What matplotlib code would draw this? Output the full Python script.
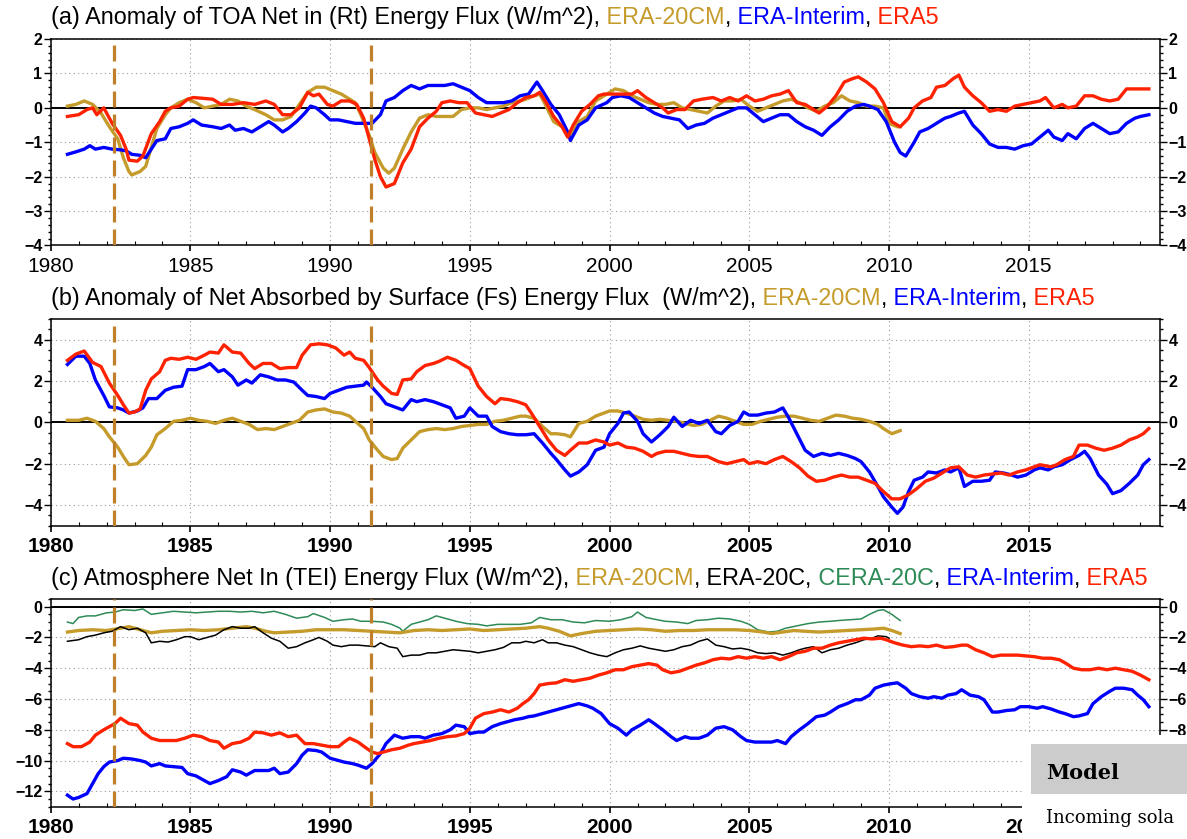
import matplotlib
matplotlib.use("Agg")
import matplotlib.pyplot as plt
import matplotlib.transforms as mtransforms
from matplotlib.ticker import MultipleLocator
from matplotlib.patches import Rectangle

plt.rcParams['font.family'] = ['Liberation Sans', 'DejaVu Sans']

GOLD = '#c59b2b'
BLUE = '#0000ff'
RED = '#ff2200'
GREEN = '#2e8b57'
VOLC = '#c0802a'

eruptions = [1982.25, 1991.45]

# (a) TOA net in, anomaly
toa_20cm = [(1980.6,0.05),(1980.9,0.1),(1981.2,0.2),(1981.5,0.1),(1981.8,-0.15),(1982.1,-0.55),(1982.4,-0.9),
            (1982.6,-1.45),(1982.8,-1.85),(1982.9,-1.95),(1983.2,-1.85),(1983.4,-1.7),(1983.6,-1.15),(1983.8,-0.6),
            (1984.1,-0.2),(1984.3,0.0),(1984.6,0.15),(1984.9,0.25),(1985.2,0.15),(1985.5,0.0),(1985.8,0.05),
            (1986.1,0.1),(1986.4,0.25),(1986.7,0.2),(1987.0,0.05),(1987.3,-0.05),(1987.7,-0.2),(1988.0,-0.35),
            (1988.3,-0.35),(1988.6,-0.25),(1988.9,0.1),(1989.2,0.45),(1989.5,0.6),(1989.8,0.6),(1990.1,0.5),
            (1990.4,0.4),(1990.7,0.25),(1990.9,0.15),(1991.1,-0.2),(1991.4,-0.8),(1991.6,-1.3),(1991.9,-1.75),
            (1992.1,-1.9),(1992.3,-1.75),(1992.6,-1.2),(1992.9,-0.7),(1993.2,-0.3),(1993.5,-0.2),(1993.8,-0.25),
            (1994.1,-0.25),(1994.4,-0.25),(1994.7,-0.05),(1995.0,0.0),(1995.3,0.0),(1995.6,-0.05),(1995.9,0.0),
            (1996.2,0.05),(1996.5,0.15),(1996.8,0.2),(1997.0,0.25),(1997.3,0.35),(1997.5,0.4),(1997.7,0.1),
            (1998.0,-0.4),(1998.3,-0.55),(1998.6,-0.8),(1998.9,-0.4),(1999.2,-0.25),(1999.5,0.2),(1999.9,0.4),
            (2000.2,0.55),(2000.5,0.5),(2000.8,0.35),(2001.1,0.25),(2001.4,0.15),(2001.7,0.1),(2002.0,0.1),
            (2002.3,0.15),(2002.6,0.0),(2002.9,-0.05),(2003.2,-0.1),(2003.5,-0.15),(2003.8,0.05),(2004.1,0.2),
            (2004.4,0.2),(2004.7,0.25),(2005.0,0.05),(2005.3,-0.1),(2005.6,0.0),(2005.9,0.1),(2006.2,0.2),
            (2006.5,0.25),(2006.8,0.15),(2007.1,0.0),(2007.4,-0.1),(2007.7,0.05),(2008.0,0.15),(2008.3,0.35),
            (2008.6,0.2),(2008.9,0.15),(2009.2,0.05),(2009.5,0.05),(2009.8,0.0),(2010.0,-0.45),(2010.3,-0.55),
            (2010.4,-0.55)]
toa_erai = [(1980.6,-1.35),(1980.9,-1.28),(1981.2,-1.2),(1981.4,-1.1),(1981.6,-1.2),(1981.9,-1.15),(1982.2,-1.2),
            (1982.5,-1.22),(1982.7,-1.25),(1982.9,-1.35),(1983.2,-1.38),(1983.4,-1.45),(1983.6,-1.2),(1983.8,-0.95),
            (1984.1,-0.9),(1984.3,-0.6),(1984.6,-0.55),(1984.9,-0.45),(1985.1,-0.35),(1985.4,-0.5),(1985.8,-0.55),
            (1986.1,-0.6),(1986.4,-0.5),(1986.6,-0.65),(1986.9,-0.6),(1987.2,-0.7),(1987.5,-0.55),(1987.8,-0.4),
            (1988.0,-0.5),(1988.3,-0.7),(1988.5,-0.6),(1988.8,-0.4),(1989.1,-0.15),(1989.3,0.05),(1989.5,0.0),
            (1989.8,-0.2),(1990.0,-0.35),(1990.3,-0.35),(1990.6,-0.4),(1990.9,-0.45),(1991.2,-0.45),(1991.5,-0.45),
            (1991.8,-0.2),(1992.0,0.2),(1992.3,0.3),(1992.6,0.5),(1992.9,0.65),(1993.2,0.55),(1993.5,0.65),
            (1993.8,0.65),(1994.1,0.65),(1994.4,0.7),(1994.7,0.6),(1995.0,0.5),(1995.3,0.3),(1995.6,0.15),
            (1995.9,0.15),(1996.2,0.15),(1996.5,0.2),(1996.8,0.35),(1997.1,0.4),(1997.4,0.75),(1997.6,0.5),
            (1997.9,0.1),(1998.2,-0.2),(1998.5,-0.7),(1998.6,-0.95),(1998.9,-0.5),(1999.2,-0.35),(1999.5,0.0),
            (1999.9,0.15),(2000.1,0.3),(2000.4,0.35),(2000.7,0.3),(2001.0,0.15),(2001.3,0.0),(2001.6,-0.15),
            (2001.9,-0.25),(2002.2,-0.3),(2002.5,-0.35),(2002.8,-0.6),(2003.1,-0.5),(2003.4,-0.45),(2003.7,-0.3),
            (2004.0,-0.2),(2004.3,-0.1),(2004.6,0.0),(2004.9,0.0),(2005.2,-0.2),(2005.5,-0.4),(2005.8,-0.3),
            (2006.1,-0.2),(2006.4,-0.2),(2006.7,-0.4),(2007.0,-0.55),(2007.3,-0.65),(2007.6,-0.8),(2007.9,-0.55),
            (2008.2,-0.35),(2008.5,-0.1),(2008.8,0.05),(2009.1,0.1),(2009.3,0.05),(2009.6,-0.05),(2009.9,-0.4),
            (2010.2,-1.0),(2010.4,-1.3),(2010.6,-1.4),(2010.9,-1.0),(2011.1,-0.7),(2011.4,-0.6),(2011.7,-0.45),
            (2012.0,-0.3),(2012.2,-0.25),(2012.5,-0.15),(2012.7,-0.1),(2013.0,-0.5),(2013.3,-0.75),(2013.6,-1.05),
            (2013.9,-1.15),(2014.2,-1.15),(2014.5,-1.2),(2014.8,-1.1),(2015.1,-1.05),(2015.4,-0.85),(2015.7,-0.65),
            (2015.9,-0.85),(2016.2,-0.95),(2016.4,-0.75),(2016.7,-0.9),(2017.0,-0.6),(2017.3,-0.45),(2017.6,-0.6),
            (2017.9,-0.75),(2018.2,-0.7),(2018.5,-0.45),(2018.8,-0.3),(2019.0,-0.25),(2019.3,-0.2)]
toa_era5 = [(1980.6,-0.25),(1981.0,-0.2),(1981.3,-0.05),(1981.5,0.0),(1981.65,-0.2),(1981.9,0.0),(1982.2,-0.45),
            (1982.5,-0.8),(1982.7,-1.2),(1982.8,-1.52),(1983.1,-1.55),(1983.3,-1.4),(1983.6,-0.75),(1983.9,-0.4),
            (1984.1,-0.1),(1984.3,0.0),(1984.6,0.05),(1984.9,0.25),(1985.1,0.3),(1985.4,0.28),(1985.8,0.25),
            (1986.1,0.1),(1986.5,0.1),(1986.9,0.15),(1987.3,0.1),(1987.7,0.2),(1988.0,0.1),(1988.3,-0.2),
            (1988.6,-0.2),(1988.9,0.0),(1989.2,0.45),(1989.4,0.35),(1989.6,0.4),(1989.9,0.1),(1990.1,0.05),
            (1990.4,0.2),(1990.7,0.2),(1990.95,0.1),(1991.2,-0.3),(1991.4,-0.9),(1991.6,-1.5),(1991.8,-2.0),
            (1992.0,-2.3),(1992.3,-2.2),(1992.6,-1.6),(1992.9,-1.2),(1993.2,-0.55),(1993.5,-0.3),(1993.8,-0.1),
            (1994.0,0.15),(1994.3,0.2),(1994.6,0.15),(1994.9,0.15),(1995.2,-0.15),(1995.5,-0.2),(1995.8,-0.25),
            (1996.1,-0.15),(1996.4,-0.05),(1996.7,0.15),(1997.0,0.3),(1997.3,0.35),(1997.5,0.45),(1997.7,0.2),
            (1998.0,-0.25),(1998.3,-0.55),(1998.5,-0.85),(1998.7,-0.5),(1999.0,-0.1),(1999.3,0.1),(1999.6,0.35),
            (1999.8,0.4),(2000.0,0.4),(2000.4,0.4),(2000.8,0.4),(2001.0,0.5),(2001.3,0.3),(2001.6,0.15),
            (2001.9,0.0),(2002.1,-0.15),(2002.4,-0.05),(2002.7,-0.05),(2003.0,0.2),(2003.3,0.25),(2003.7,0.3),
            (2004.0,0.2),(2004.3,0.3),(2004.6,0.2),(2004.9,0.35),(2005.2,0.2),(2005.5,0.25),(2005.8,0.35),
            (2006.1,0.4),(2006.4,0.5),(2006.7,0.15),(2007.0,0.1),(2007.3,-0.05),(2007.5,-0.15),(2007.8,0.05),
            (2008.1,0.35),(2008.4,0.75),(2008.7,0.85),(2008.9,0.9),(2009.2,0.75),(2009.5,0.55),(2009.8,0.15),
            (2010.1,-0.4),(2010.4,-0.55),(2010.7,-0.3),(2010.9,0.0),(2011.2,0.2),(2011.5,0.3),(2011.7,0.6),
            (2012.0,0.65),(2012.3,0.85),(2012.5,0.95),(2012.7,0.6),(2013.0,0.35),(2013.3,0.15),(2013.6,-0.1),
            (2013.9,-0.05),(2014.2,-0.1),(2014.5,0.05),(2014.8,0.1),(2015.1,0.15),(2015.4,0.2),(2015.6,0.3),
            (2015.9,0.0),(2016.2,0.1),(2016.4,0.0),(2016.7,0.05),(2017.0,0.35),(2017.3,0.35),(2017.6,0.25),
            (2017.9,0.2),(2018.2,0.25),(2018.5,0.55),(2018.8,0.55),(2019.1,0.55),(2019.3,0.55)]

# (b) net absorbed by surface, anomaly
sfc_20cm = [(1980.6,0.1),(1981.0,0.1),(1981.3,0.2),(1981.6,0.05),(1981.9,-0.3),(1982.1,-0.7),(1982.4,-1.2),
            (1982.6,-1.65),(1982.8,-2.05),(1983.1,-2.0),(1983.4,-1.6),(1983.6,-1.2),(1983.8,-0.6),(1984.1,-0.3),
            (1984.4,0.05),(1984.7,0.1),(1985.0,0.2),(1985.3,0.1),(1985.6,0.05),(1985.9,-0.05),(1986.2,0.1),
            (1986.5,0.2),(1986.8,0.05),(1987.1,-0.1),(1987.4,-0.35),(1987.7,-0.3),(1988.0,-0.35),(1988.3,-0.2),
            (1988.6,-0.05),(1988.9,0.1),(1989.2,0.5),(1989.5,0.6),(1989.8,0.65),(1990.1,0.5),(1990.4,0.45),
            (1990.7,0.3),(1990.9,0.05),(1991.2,-0.3),(1991.4,-0.85),(1991.7,-1.35),(1991.9,-1.65),(1992.2,-1.8),
            (1992.4,-1.75),(1992.6,-1.25),(1992.9,-0.85),(1993.2,-0.45),(1993.5,-0.35),(1993.8,-0.3),(1994.1,-0.35),
            (1994.4,-0.3),(1994.7,-0.2),(1995.0,-0.15),(1995.3,-0.1),(1995.6,-0.1),(1995.9,0.05),(1996.2,0.1),
            (1996.5,0.2),(1996.8,0.3),(1997.0,0.3),(1997.3,0.2),(1997.6,-0.2),(1997.9,-0.55),(1998.1,-0.55),
            (1998.4,-0.6),(1998.6,-0.7),(1998.9,-0.05),(1999.2,0.05),(1999.5,0.3),(2000.0,0.55),(2000.3,0.55),
            (2000.6,0.45),(2000.9,0.3),(2001.2,0.15),(2001.5,0.1),(2001.8,0.15),(2002.1,0.1),(2002.4,0.05),
            (2002.7,-0.05),(2003.0,-0.15),(2003.3,-0.1),(2003.6,0.1),(2003.9,0.3),(2004.2,0.2),(2004.5,0.05),
            (2004.8,-0.1),(2005.1,-0.1),(2005.4,0.05),(2005.7,0.15),(2006.0,0.25),(2006.3,0.3),(2006.6,0.3),
            (2006.9,0.2),(2007.2,0.1),(2007.5,0.05),(2007.8,0.2),(2008.1,0.35),(2008.4,0.3),(2008.7,0.2),
            (2009.0,0.15),(2009.3,0.05),(2009.6,-0.1),(2009.8,-0.3),(2010.1,-0.55),(2010.4,-0.4)]
sfc_erai = [(1980.6,2.8),(1980.9,3.2),(1981.2,3.2),(1981.4,2.85),(1981.6,2.05),(1981.9,1.3),(1982.1,0.75),
            (1982.4,0.7),(1982.6,0.6),(1982.8,0.45),(1983.1,0.55),(1983.3,0.7),(1983.5,1.15),(1983.8,1.15),
            (1984.1,1.55),(1984.4,1.7),(1984.7,1.75),(1984.9,2.55),(1985.2,2.55),(1985.5,2.7),(1985.7,2.85),
            (1986.0,2.45),(1986.2,2.55),(1986.5,2.2),(1986.7,1.8),(1987.0,2.05),(1987.2,1.9),(1987.5,2.3),
            (1987.8,2.2),(1988.1,2.05),(1988.4,2.05),(1988.7,1.95),(1989.0,1.55),(1989.2,1.3),(1989.5,1.25),
            (1989.8,1.15),(1990.0,1.4),(1990.3,1.55),(1990.6,1.7),(1990.9,1.75),(1991.2,1.8),(1991.3,1.95),
            (1991.5,1.7),(1991.8,1.25),(1992.0,0.9),(1992.3,0.75),(1992.6,0.6),(1992.9,1.1),(1993.1,1.0),
            (1993.4,1.1),(1993.7,1.0),(1994.0,0.85),(1994.3,0.7),(1994.5,0.2),(1994.8,0.3),(1995.0,0.7),
            (1995.3,0.3),(1995.6,0.3),(1995.8,-0.2),(1996.1,-0.45),(1996.4,-0.55),(1996.7,-0.6),(1997.0,-0.6),
            (1997.3,-0.55),(1997.6,-1.0),(1997.9,-1.5),(1998.1,-1.8),(1998.4,-2.3),(1998.6,-2.6),(1998.9,-2.4),
            (1999.2,-2.05),(1999.5,-1.35),(1999.8,-1.2),(2000.0,-0.55),(2000.3,-0.05),(2000.5,0.45),(2000.7,0.5),
            (2001.0,0.05),(2001.2,-0.55),(2001.5,-0.95),(2001.8,-0.6),(2002.1,-0.2),(2002.3,0.25),(2002.6,-0.2),
            (2002.9,0.1),(2003.2,-0.05),(2003.5,0.1),(2003.8,-0.45),(2004.0,-0.55),(2004.3,-0.15),(2004.6,0.05),
            (2004.8,0.5),(2005.0,0.35),(2005.3,0.35),(2005.6,0.45),(2005.9,0.5),(2006.2,0.7),(2006.4,0.25),
            (2006.7,-0.55),(2007.0,-1.35),(2007.3,-1.65),(2007.6,-1.5),(2007.9,-1.6),(2008.2,-1.5),(2008.5,-1.6),
            (2008.8,-1.75),(2009.0,-1.9),(2009.3,-2.4),(2009.6,-3.1),(2009.8,-3.6),(2010.1,-4.1),(2010.3,-4.4),
            (2010.5,-4.1),(2010.7,-3.35),(2010.9,-2.8),(2011.2,-2.65),(2011.4,-2.4),(2011.7,-2.45),(2012.0,-2.3),
            (2012.2,-2.4),(2012.5,-2.2),(2012.7,-3.1),(2013.0,-2.85),(2013.3,-2.85),(2013.6,-2.8),(2013.8,-2.4),
            (2014.1,-2.45),(2014.4,-2.55),(2014.6,-2.65),(2014.9,-2.55),(2015.2,-2.3),(2015.4,-2.2),(2015.7,-2.3),
            (2015.9,-2.15),(2016.2,-2.05),(2016.5,-1.8),(2016.8,-1.6),(2017.0,-1.4),(2017.2,-1.75),(2017.5,-2.55),
            (2017.8,-3.0),(2018.0,-3.45),(2018.3,-3.3),(2018.6,-2.95),(2018.9,-2.55),(2019.1,-2.05),(2019.3,-1.8)]
sfc_era5 = [(1980.6,3.0),(1980.9,3.3),(1981.2,3.45),(1981.5,2.9),(1981.8,2.7),(1982.1,1.9),(1982.4,1.3),
            (1982.6,0.85),(1982.8,0.45),(1983.0,0.5),(1983.2,0.65),(1983.4,1.55),(1983.6,2.1),(1983.9,2.45),
            (1984.1,3.0),(1984.3,3.1),(1984.6,3.05),(1984.9,3.15),(1985.2,3.05),(1985.5,3.25),(1985.7,3.4),
            (1986.0,3.35),(1986.2,3.75),(1986.5,3.4),(1986.8,3.35),(1987.1,2.85),(1987.3,2.6),(1987.6,2.85),
            (1987.9,2.85),(1988.2,2.6),(1988.5,2.65),(1988.8,2.65),(1989.0,3.25),(1989.3,3.75),(1989.6,3.8),
            (1989.9,3.75),(1990.2,3.6),(1990.5,3.25),(1990.7,3.4),(1990.9,3.1),(1991.2,3.0),(1991.4,2.65),
            (1991.7,2.05),(1991.9,1.75),(1992.2,1.4),(1992.4,1.35),(1992.6,2.05),(1992.9,2.1),(1993.1,2.45),
            (1993.4,2.75),(1993.7,2.85),(1993.9,2.95),(1994.2,3.15),(1994.5,3.0),(1994.8,2.75),(1995.0,2.6),
            (1995.3,1.75),(1995.6,1.25),(1995.9,0.9),(1996.1,1.15),(1996.4,1.1),(1996.7,1.0),(1997.0,0.85),
            (1997.2,0.45),(1997.5,-0.2),(1997.8,-0.85),(1998.1,-1.35),(1998.4,-1.6),(1998.6,-1.35),(1998.9,-1.0),
            (1999.2,-1.0),(1999.5,-0.85),(1999.8,-0.95),(2000.0,-1.1),(2000.3,-1.0),(2000.6,-1.2),(2000.9,-1.25),
            (2001.2,-1.4),(2001.5,-1.65),(2001.7,-1.5),(2002.0,-1.4),(2002.3,-1.4),(2002.6,-1.5),(2002.9,-1.6),
            (2003.2,-1.65),(2003.5,-1.65),(2003.9,-1.9),(2004.2,-2.0),(2004.5,-1.9),(2004.8,-1.8),(2005.0,-2.0),
            (2005.3,-1.9),(2005.6,-2.0),(2005.9,-1.8),(2006.2,-1.65),(2006.5,-1.9),(2006.8,-2.2),(2007.1,-2.6),
            (2007.4,-2.85),(2007.7,-2.8),(2008.0,-2.65),(2008.3,-2.55),(2008.6,-2.65),(2008.9,-2.65),(2009.2,-2.8),
            (2009.5,-2.95),(2009.8,-3.35),(2010.1,-3.7),(2010.4,-3.7),(2010.7,-3.5),(2011.0,-3.2),(2011.3,-2.85),
            (2011.6,-2.7),(2011.9,-2.45),(2012.2,-2.2),(2012.5,-2.15),(2012.8,-2.55),(2013.1,-2.65),(2013.4,-2.55),
            (2013.7,-2.5),(2014.0,-2.45),(2014.3,-2.55),(2014.6,-2.4),(2014.9,-2.3),(2015.2,-2.15),(2015.4,-2.05),
            (2015.8,-2.15),(2016.0,-2.05),(2016.3,-1.8),(2016.6,-1.65),(2016.8,-1.1),(2017.1,-1.1),(2017.4,-1.25),
            (2017.7,-1.35),(2018.0,-1.25),(2018.3,-1.1),(2018.6,-0.85),(2018.9,-0.7),(2019.1,-0.55),(2019.3,-0.3)]

# (c) atmosphere net in (TEI)
tei_20cm = [(1980.6,-1.65),(1981.0,-1.55),(1981.5,-1.5),(1982.0,-1.55),(1982.5,-1.4),(1982.8,-1.3),(1983.2,-1.5),
            (1983.6,-1.7),(1984.0,-1.6),(1984.5,-1.55),(1985.0,-1.5),(1985.5,-1.55),(1986.0,-1.5),(1986.5,-1.4),
            (1987.0,-1.3),(1987.3,-1.4),(1987.7,-1.6),(1988.0,-1.7),(1988.5,-1.65),(1989.0,-1.6),(1989.5,-1.5),
            (1990.0,-1.5),(1990.5,-1.5),(1991.0,-1.55),(1991.5,-1.6),(1992.0,-1.65),(1992.5,-1.7),(1993.0,-1.55),
            (1993.5,-1.5),(1994.0,-1.55),(1994.5,-1.5),(1995.0,-1.45),(1995.5,-1.55),(1996.0,-1.5),(1996.5,-1.45),
            (1997.0,-1.4),(1997.5,-1.3),(1997.8,-1.4),(1998.2,-1.6),(1998.6,-1.9),(1999.0,-1.75),(1999.5,-1.6),
            (2000.0,-1.55),(2000.5,-1.5),(2001.0,-1.45),(2001.5,-1.5),(2002.0,-1.6),(2002.5,-1.55),(2003.0,-1.55),
            (2003.5,-1.5),(2004.0,-1.5),(2004.5,-1.5),(2005.0,-1.55),(2005.5,-1.65),(2005.8,-1.75),(2006.2,-1.65),
            (2006.6,-1.55),(2007.0,-1.6),(2007.5,-1.65),(2008.0,-1.6),(2008.5,-1.55),(2009.0,-1.5),(2009.5,-1.45),
            (2009.8,-1.4),(2010.1,-1.55),(2010.4,-1.75)]
tei_20c = [(1980.6,-2.25),(1981.0,-2.15),(1981.3,-1.95),(1981.6,-1.85),(1981.9,-1.7),(1982.2,-1.6),(1982.5,-1.3),
           (1982.8,-1.5),(1983.1,-1.4),(1983.4,-1.7),(1983.6,-2.35),(1983.9,-2.25),(1984.2,-2.3),(1984.5,-2.15),
           (1984.8,-1.95),(1985.0,-1.95),(1985.3,-2.15),(1985.6,-2.0),(1985.9,-1.85),(1986.2,-1.5),(1986.5,-1.3),
           (1986.8,-1.4),(1987.1,-1.4),(1987.3,-1.3),(1987.6,-1.7),(1987.9,-2.05),(1988.2,-2.25),(1988.5,-2.7),
           (1988.8,-2.6),(1989.1,-2.35),(1989.4,-2.15),(1989.6,-2.0),(1989.9,-2.25),(1990.1,-2.5),(1990.4,-2.6),
           (1990.7,-2.5),(1991.0,-2.5),(1991.3,-2.55),(1991.6,-2.6),(1991.8,-2.35),(1992.1,-2.6),(1992.4,-2.7),
           (1992.6,-3.25),(1992.9,-3.15),(1993.2,-3.15),(1993.5,-3.0),(1993.8,-3.0),(1994.1,-2.9),(1994.4,-2.8),
           (1994.7,-2.85),(1995.0,-2.9),(1995.3,-3.0),(1995.6,-2.9),(1995.9,-2.8),(1996.2,-2.65),(1996.5,-2.35),
           (1996.8,-2.35),(1997.0,-2.25),(1997.3,-2.35),(1997.6,-2.15),(1997.8,-2.35),(1998.1,-2.35),(1998.4,-2.5),
           (1998.7,-2.6),(1999.0,-2.8),(1999.3,-3.0),(1999.6,-3.15),(1999.9,-3.25),(2000.2,-3.0),(2000.5,-2.8),
           (2000.8,-2.7),(2001.1,-2.55),(2001.4,-2.7),(2001.7,-2.8),(2002.0,-2.9),(2002.3,-2.8),(2002.6,-2.6),
           (2002.9,-2.5),(2003.2,-2.25),(2003.5,-2.1),(2003.8,-2.5),(2004.1,-2.6),(2004.4,-2.75),(2004.7,-2.7),
           (2005.0,-2.8),(2005.3,-3.0),(2005.6,-3.05),(2005.9,-3.0),(2006.2,-3.15),(2006.5,-3.0),(2006.8,-2.8),
           (2007.0,-2.7),(2007.3,-2.6),(2007.6,-3.0),(2007.9,-2.8),(2008.2,-2.7),(2008.5,-2.5),(2008.8,-2.35),
           (2009.1,-2.15),(2009.4,-2.05),(2009.6,-1.9),(2009.9,-1.95),(2010.0,-2.05)]
tei_cera = [(1980.6,-1.0),(1980.8,-1.1),(1981.0,-0.7),(1981.3,-0.6),(1981.6,-0.6),(1982.0,-0.4),(1982.3,-0.35),
            (1982.6,-0.2),(1983.0,-0.25),(1983.3,-0.15),(1983.6,-0.5),(1984.0,-0.4),(1984.4,-0.3),(1984.8,-0.35),
            (1985.2,-0.4),(1985.6,-0.35),(1986.0,-0.3),(1986.4,-0.3),(1986.8,-0.35),(1987.2,-0.3),(1987.6,-0.4),
            (1988.0,-0.3),(1988.4,-0.5),(1988.8,-0.75),(1989.2,-0.65),(1989.4,-0.45),(1989.8,-0.7),(1990.1,-0.95),
            (1990.5,-0.85),(1990.8,-0.8),(1991.1,-0.95),(1991.5,-0.95),(1991.9,-1.0),(1992.2,-1.15),(1992.5,-1.4),
            (1992.6,-1.6),(1992.9,-1.15),(1993.2,-1.0),(1993.5,-0.85),(1993.8,-0.6),(1994.1,-0.75),(1994.5,-0.95),
            (1994.9,-1.1),(1995.3,-1.15),(1995.6,-1.25),(1996.0,-1.15),(1996.4,-1.15),(1996.8,-1.15),(1997.2,-1.05),
            (1997.5,-0.7),(1997.9,-0.85),(1998.3,-0.85),(1998.7,-1.0),(1999.1,-1.05),(1999.5,-0.9),(2000.0,-0.95),
            (2000.4,-0.85),(2000.8,-0.65),(2001.0,-0.35),(2001.3,-0.7),(2001.7,-0.85),(2002.0,-0.95),(2002.4,-1.0),
            (2002.8,-1.1),(2003.1,-0.9),(2003.5,-0.85),(2003.9,-0.75),(2004.3,-0.8),(2004.7,-0.95),(2005.0,-1.15),
            (2005.3,-1.5),(2005.7,-1.65),(2006.0,-1.6),(2006.3,-1.4),(2006.7,-1.25),(2007.1,-1.1),(2007.5,-1.0),
            (2007.9,-0.95),(2008.2,-0.9),(2008.6,-0.85),(2009.0,-0.8),(2009.3,-0.5),(2009.6,-0.25),(2009.8,-0.2),
            (2010.1,-0.5),(2010.4,-0.9)]
tei_erai = [(1980.6,-12.25),(1980.8,-12.5),(1981.0,-12.4),(1981.3,-12.15),(1981.5,-11.5),(1981.7,-10.85),
            (1981.9,-10.4),(1982.1,-10.1),(1982.4,-10.0),(1982.6,-9.85),(1982.9,-9.9),(1983.2,-10.0),(1983.4,-10.1),
            (1983.6,-10.35),(1983.9,-10.2),(1984.1,-10.35),(1984.4,-10.4),(1984.7,-10.45),(1984.9,-10.85),
            (1985.2,-11.0),(1985.5,-11.3),(1985.7,-11.5),(1986.0,-11.3),(1986.3,-11.05),(1986.5,-10.6),
            (1986.8,-10.75),(1987.0,-10.95),(1987.3,-10.65),(1987.5,-10.65),(1987.8,-10.65),(1988.0,-10.5),
            (1988.2,-10.85),(1988.5,-10.75),(1988.8,-10.2),(1989.0,-9.65),(1989.2,-9.3),(1989.5,-9.35),
            (1989.7,-9.45),(1990.0,-9.85),(1990.3,-10.0),(1990.5,-10.1),(1990.8,-10.2),(1991.0,-10.3),
            (1991.3,-10.5),(1991.5,-10.2),(1991.8,-9.55),(1992.0,-8.9),(1992.3,-8.35),(1992.6,-8.55),
            (1992.9,-8.45),(1993.2,-8.45),(1993.4,-8.55),(1993.7,-8.35),(1994.0,-8.25),(1994.3,-8.0),(1994.5,-7.7),
            (1994.8,-7.8),(1995.0,-8.25),(1995.3,-8.15),(1995.5,-8.15),(1995.8,-7.8),(1996.1,-7.6),(1996.3,-7.5),
            (1996.6,-7.35),(1996.9,-7.25),(1997.1,-7.15),(1997.3,-7.1),(1997.6,-6.95),(1997.8,-6.85),
            (1998.1,-6.7),(1998.4,-6.55),(1998.7,-6.4),(1998.9,-6.3),(1999.2,-6.45),(1999.4,-6.6),(1999.7,-6.95),
            (2000.0,-7.6),(2000.3,-7.9),(2000.6,-8.35),(2000.8,-8.0),(2001.1,-7.7),(2001.4,-7.35),(2001.6,-7.6),
            (2001.9,-8.0),(2002.2,-8.45),(2002.4,-8.7),(2002.7,-8.45),(2002.9,-8.55),(2003.2,-8.55),(2003.5,-8.35),
            (2003.8,-7.9),(2004.1,-7.8),(2004.4,-8.0),(2004.7,-8.45),(2004.9,-8.7),(2005.2,-8.8),(2005.5,-8.8),
            (2005.8,-8.8),(2006.0,-8.7),(2006.3,-8.9),(2006.5,-8.45),(2006.8,-8.0),(2007.1,-7.6),(2007.4,-7.15),
            (2007.7,-7.05),(2007.9,-6.85),(2008.2,-6.5),(2008.5,-6.3),(2008.8,-6.05),(2009.0,-6.05),(2009.3,-5.75),
            (2009.5,-5.3),(2009.8,-5.1),(2010.1,-5.0),(2010.3,-4.95),(2010.6,-5.3),(2010.8,-5.65),(2011.1,-5.85),
            (2011.4,-5.95),(2011.6,-5.85),(2011.9,-5.95),(2012.1,-5.75),(2012.4,-5.65),(2012.6,-5.4),(2012.9,-5.75),
            (2013.2,-5.85),(2013.4,-6.05),(2013.7,-6.85),(2013.9,-6.85),(2014.2,-6.75),(2014.5,-6.7),(2014.7,-6.5),
            (2015.0,-6.5),(2015.3,-6.6),(2015.5,-6.5),(2015.8,-6.65),(2016.1,-6.85),(2016.3,-6.95),(2016.6,-7.15),
            (2016.8,-7.1),(2017.1,-6.95),(2017.3,-6.3),(2017.6,-5.85),(2017.9,-5.5),(2018.1,-5.3),(2018.4,-5.3),
            (2018.7,-5.4),(2018.9,-5.75),(2019.1,-6.05),(2019.3,-6.5)]
tei_era5 = [(1980.6,-8.9),(1980.8,-9.1),(1981.1,-9.1),(1981.4,-8.8),(1981.6,-8.35),(1981.9,-8.0),(1982.1,-7.8),
            (1982.3,-7.6),(1982.5,-7.25),(1982.8,-7.6),(1983.1,-7.7),(1983.3,-8.15),(1983.6,-8.55),(1983.9,-8.7),
            (1984.2,-8.7),(1984.5,-8.7),(1984.8,-8.55),(1985.1,-8.35),(1985.4,-8.45),(1985.7,-8.7),(1986.0,-8.8),
            (1986.2,-9.2),(1986.5,-8.9),(1986.8,-8.8),(1987.1,-8.55),(1987.3,-8.15),(1987.6,-8.2),(1987.9,-8.35),
            (1988.2,-8.2),(1988.5,-8.45),(1988.8,-8.35),(1989.1,-8.9),(1989.4,-8.9),(1989.7,-9.0),(1990.0,-9.1),
            (1990.3,-9.1),(1990.5,-8.8),(1990.7,-8.55),(1991.0,-8.8),(1991.3,-9.2),(1991.5,-9.45),(1991.7,-9.55),
            (1991.9,-9.45),(1992.2,-9.3),(1992.5,-9.2),(1992.8,-9.0),(1993.0,-8.9),(1993.3,-8.8),(1993.6,-8.7),
            (1993.9,-8.55),(1994.2,-8.45),(1994.5,-8.4),(1994.8,-8.25),(1995.0,-7.9),(1995.2,-7.25),(1995.5,-6.95),
            (1995.8,-6.85),(1996.1,-6.7),(1996.4,-6.85),(1996.7,-6.6),(1996.9,-6.3),(1997.1,-6.05),(1997.3,-5.65),
            (1997.5,-5.1),(1997.8,-5.0),(1998.1,-4.95),(1998.4,-4.75),(1998.7,-4.85),(1999.0,-4.75),(1999.3,-4.65),
            (1999.6,-4.45),(1999.9,-4.3),(2000.2,-4.1),(2000.5,-4.1),(2000.8,-3.9),(2001.1,-3.8),(2001.4,-3.7),
            (2001.7,-3.8),(2001.9,-4.1),(2002.2,-4.3),(2002.5,-4.2),(2002.8,-4.0),(2003.1,-3.8),(2003.4,-3.65),
            (2003.7,-3.45),(2004.0,-3.35),(2004.3,-3.4),(2004.6,-3.25),(2004.9,-3.35),(2005.2,-3.25),(2005.5,-3.35),
            (2005.8,-3.25),(2006.1,-3.45),(2006.4,-3.25),(2006.7,-3.0),(2007.0,-2.9),(2007.3,-2.7),(2007.6,-2.7),
            (2007.9,-2.5),(2008.2,-2.35),(2008.5,-2.25),(2008.8,-2.15),(2009.1,-2.05),(2009.4,-2.1),(2009.7,-2.05),
            (2009.9,-2.15),(2010.2,-2.35),(2010.5,-2.5),(2010.8,-2.6),(2011.1,-2.55),(2011.4,-2.6),(2011.7,-2.5),
            (2012.0,-2.65),(2012.3,-2.6),(2012.6,-2.5),(2012.8,-2.5),(2013.1,-2.8),(2013.4,-3.0),(2013.7,-3.25),
            (2014.0,-3.15),(2014.3,-3.15),(2014.6,-3.15),(2014.9,-3.2),(2015.2,-3.25),(2015.5,-3.35),(2015.8,-3.35),
            (2016.1,-3.45),(2016.3,-3.65),(2016.6,-4.0),(2016.9,-4.1),(2017.2,-4.1),(2017.5,-4.0),(2017.8,-4.1),
            (2018.1,-4.0),(2018.4,-4.1),(2018.7,-4.2),(2019.0,-4.45),(2019.3,-4.75)]

panels = [
    dict(pos=[0.0427, 0.7074, 0.9346, 0.2461], ylim=(-4, 2), major=1, minor=0.2, boldx=False,
         title_y=0.979, hide_right=[],
         title=[("(a) Anomaly of TOA Net in (Rt) Energy Flux (W/m^2),", 'black'), (" ERA-20CM", GOLD),
                (",", 'black'), (" ERA-Interim", BLUE), (",", 'black'), (" ERA5", RED)],
         lines=[(toa_20cm, GOLD, 2.4), (toa_erai, BLUE, 2.4), (toa_era5, RED, 2.4)]),
    dict(pos=[0.0427, 0.3734, 0.9346, 0.2464], ylim=(-5, 5), major=2, minor=0.5, boldx=True,
         title_y=0.6448, hide_right=[],
         title=[("(b) Anomaly of Net Absorbed by Surface (Fs) Energy Flux  (W/m^2),", 'black'), (" ERA-20CM", GOLD),
                (",", 'black'), (" ERA-Interim", BLUE), (",", 'black'), (" ERA5", RED)],
         lines=[(sfc_20cm, GOLD, 2.4), (sfc_erai, BLUE, 2.4), (sfc_era5, RED, 2.4)]),
    dict(pos=[0.0427, 0.0385, 0.9346, 0.2476], ylim=(-13, 0.5), major=2, minor=0.5, boldx=True,
         title_y=0.311, hide_right=[-10, -12],
         title=[("(c) Atmosphere Net In (TEI) Energy Flux (W/m^2),", 'black'), (" ERA-20CM", GOLD),
                (",", 'black'), (" ERA-20C", 'black'), (",", 'black'), (" CERA-20C", GREEN),
                (",", 'black'), (" ERA-Interim", BLUE), (",", 'black'), (" ERA5", RED)],
         lines=[(tei_cera, GREEN, 1.1), (tei_20cm, GOLD, 2.4), (tei_20c, 'black', 1.1),
                (tei_erai, BLUE, 2.4), (tei_era5, RED, 2.4)]),
]

fig = plt.figure(figsize=(11.87, 8.39), dpi=100)
renderer = fig.canvas.get_renderer()


def color_title(x, y, pieces, size=16.8):
    trans = fig.transFigure
    for s, c in pieces:
        t = fig.text(x, y, s, color=c, fontsize=size, va='center', ha='left', transform=trans)
        ex = t.get_window_extent(renderer)
        trans = mtransforms.offset_copy(t.get_transform(), fig=fig, x=ex.width, units='dots')


for p in panels:
    ax = fig.add_axes(p['pos'])
    for data, col, lw in p['lines']:
        xs = [d[0] for d in data]
        ys = [d[1] for d in data]
        ax.plot(xs, ys, color=col, lw=lw, solid_joinstyle='round', zorder=3)
    ax.axhline(0, color='black', lw=1.4, zorder=2)
    for yr in eruptions:
        ax.axvline(yr, color=VOLC, lw=2.3, dashes=(5, 2.2), zorder=4)
    ax.set_xlim(1980, 2019.7)
    ax.set_ylim(*p['ylim'])
    ax.xaxis.set_major_locator(MultipleLocator(5))
    ax.xaxis.set_minor_locator(MultipleLocator(1))
    ax.yaxis.set_major_locator(MultipleLocator(p['major']))
    ax.yaxis.set_minor_locator(MultipleLocator(p['minor']))
    ax.grid(which='major', linestyle=(0, (1, 3)), color='#9a9a9a', lw=0.8, zorder=1)
    ax.tick_params(axis='x', which='major', direction='out', length=4, width=1.2, labelsize=15, pad=4)
    ax.tick_params(axis='x', which='minor', direction='in', length=3, width=0.8)
    ax.tick_params(axis='y', which='both', direction='out', left=True, right=True,
                   labelleft=True, labelright=True, width=1.0, labelsize=11.5, pad=1)
    ax.tick_params(axis='y', which='major', length=5)
    ax.tick_params(axis='y', which='minor', length=2.5)
    for lab in ax.get_yticklabels():
        lab.set_fontweight('bold')
    if p['boldx']:
        for lab in ax.get_xticklabels():
            lab.set_fontweight('bold')
    # right-hand labels hidden behind the page fragment in the bottom corner
    for tk in ax.yaxis.get_major_ticks():
        if round(tk.get_loc()) in p['hide_right']:
            tk.label2.set_visible(False)
    for sp in ax.spines.values():
        sp.set_linewidth(1.1)
    color_title(0.043, p['title_y'], p['title'])

# page fragment that overlaps the bottom right corner
fig.patches.append(Rectangle((1022 / 1187, 0), 1 - 1022 / 1187, 104 / 839, transform=fig.transFigure,
                             facecolor='white', edgecolor='none', zorder=10))
fig.patches.append(Rectangle((1031 / 1187, 45 / 839), 1 - 1031 / 1187, 50 / 839, transform=fig.transFigure,
                             facecolor='#cccccc', edgecolor='none', zorder=11))
fig.text(1046 / 1187, 66 / 839, "Model", family='DejaVu Serif', fontweight='bold', fontsize=15,
         va='center', ha='left', zorder=12)
fig.text(1046 / 1187, 21 / 839, "Incoming sola", family='DejaVu Serif', fontsize=13,
         va='center', ha='left', zorder=12)

fig.savefig("out.png", dpi=100)
